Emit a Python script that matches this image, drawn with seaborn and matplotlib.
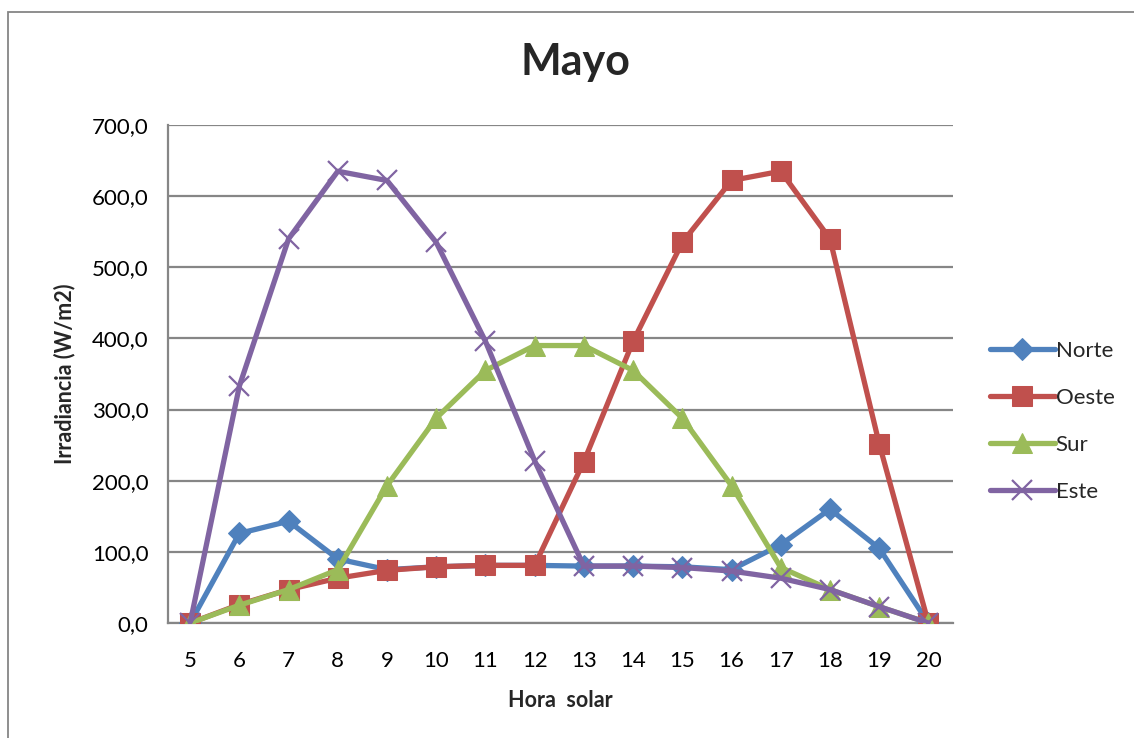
import matplotlib
matplotlib.use("Agg")
import matplotlib.pyplot as plt
from matplotlib.patches import Rectangle
import seaborn as sns
import pandas as pd

# Hourly irradiance on vertical surfaces, May
hours = [5, 6, 7, 8, 9, 10, 11, 12, 13, 14, 15, 16, 17, 18, 19, 20]
norte = [0, 126, 143, 90, 75, 79, 81, 81, 80, 80, 79, 75, 110, 160, 105, 0]
oeste = [0, 26, 47, 63, 74, 79, 81, 81, 227, 396, 535, 622, 635, 540, 252, 0]
sur = [0, 25, 47, 75, 193, 288, 355, 390, 390, 355, 288, 193, 78, 47, 23, 0]
este = [0, 333, 540, 635, 622, 535, 396, 228, 80, 80, 78, 73, 63, 47, 23, 0]

series_names = ["Norte", "Oeste", "Sur", "Este"]
series_values = [norte, oeste, sur, este]
colors = ["#4F81BD", "#C0504D", "#9BBB59", "#8064A2"]
markers = ["D", "s", "^", "x"]
marker_sizes = [11, 14, 14, 14]

sns.set_theme(style="white")
plt.rcParams["font.family"] = ["Lato", "DejaVu Sans"]

fig = plt.figure(figsize=(11.34, 7.38), dpi=100)
ax = fig.add_axes([168 / 1134, 1 - 623 / 738, (953 - 168) / 1134, (623 - 125) / 738])

for name, vals, col, mk, ms in zip(series_names, series_values, colors, markers, marker_sizes):
    df = pd.DataFrame({"Hora": hours, "Irradiancia": vals})
    kw = dict(markeredgecolor=col, markerfacecolor=col)
    if mk == "x":
        kw["markeredgewidth"] = 1.6
    sns.lineplot(data=df, x="Hora", y="Irradiancia", ax=ax, color=col, linewidth=3.8,
                 marker=mk, markersize=ms, label=name, zorder=3, **kw)

ax.set_xlim(4.55, 20.5)
ax.set_ylim(0, 700)
ax.set_xticks(hours)
ax.set_xticklabels([str(h) for h in hours])
ax.set_yticks(range(0, 701, 100))
ax.set_yticklabels([f"{v},0" for v in range(0, 701, 100)])
ax.tick_params(axis="x", length=0, pad=20, labelsize=16, colors="black")
ax.tick_params(axis="y", length=6, width=1.5, color="#868686", pad=8, labelsize=16, labelcolor="black", direction="out")
ax.yaxis.grid(True, color="#868686", linewidth=1.6)
ax.set_axisbelow(True)
for side in ["top", "right"]:
    ax.spines[side].set_visible(False)
for side in ["left", "bottom"]:
    ax.spines[side].set_color("#868686")
    ax.spines[side].set_linewidth(1.6)

ax.set_xlabel("Hora  solar", fontsize=15.5, fontweight="bold", labelpad=14)
ax.set_ylabel("Irradiancia (W/m2)", fontsize=15.5, fontweight="bold", labelpad=12)
fig.text(575 / 1134, 1 - 62 / 738, "Mayo", fontsize=31, fontweight="bold", ha="center", va="center")

ax.legend(loc="center left", bbox_to_anchor=(1.036, 0.405), frameon=False, fontsize=16,
          handlelength=2.9, handletextpad=0.05, labelspacing=1.22, borderaxespad=0)

fig.patches.append(Rectangle((8 / 1134, -0.1), 1.2, 1.1 - 12 / 738, transform=fig.transFigure,
                             fill=False, edgecolor="#868686", linewidth=1.3))

fig.savefig("out.png", dpi=100)
